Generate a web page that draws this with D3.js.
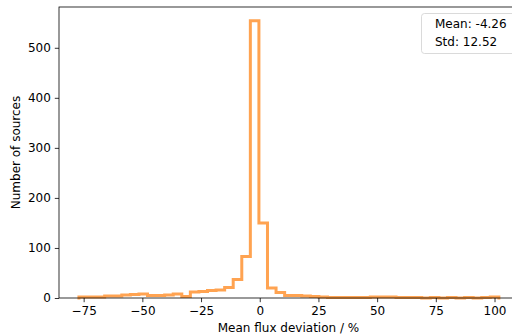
<!DOCTYPE html>
<html>
<head>
<meta charset="utf-8">
<script src="https://cdn.jsdelivr.net/npm/d3@7"></script>
<style>
  body { margin: 0; background: #fff; }
  svg { display: block; font-family: "DejaVu Sans", sans-serif; }
</style>
</head>
<body>
<svg id="chart" width="512" height="336"></svg>
<script>
// histogram bin edges (percent) and counts per bin
var binEdges = [-77.00, -73.35, -69.70, -66.05, -62.40, -58.75, -55.10, -51.45, -47.80, -44.15,
  -40.50, -36.85, -33.20, -29.55, -25.90, -22.25, -18.60, -14.95, -11.30, -7.65,
  -4.00, -0.35, 3.30, 6.95, 10.60, 14.25, 17.90, 21.55, 25.20, 28.85,
  32.50, 36.15, 39.80, 43.45, 47.10, 50.75, 54.40, 58.05, 61.70, 65.35,
  69.00, 72.65, 76.30, 79.95, 83.60, 87.25, 90.90, 94.55, 98.20, 101.85];
var binCounts = [2, 2, 2, 4, 4, 6, 7, 8, 5, 5,
  6, 8, 3, 12, 13, 15, 16, 21, 37, 83,
  554, 150, 20, 11, 5, 5, 4, 3, 2, 1,
  1, 1, 1, 1, 2, 2, 2, 1, 1, 1,
  0, 1, 0, 1, 0, 1, 0, 1, 2];
var xTicks = [-75, -50, -25, 0, 25, 50, 75, 100];
var yTicks = [0, 100, 200, 300, 400, 500];
var legendLabels = ["Mean: -4.26", "Std: 12.52"];

var svg = d3.select("#chart");
var box = {left: 59, top: 7, right: 518, bottom: 298};

var x = d3.scaleLinear()
  .domain([-85.5, 110])
  .range([box.left, box.right]);
var y = d3.scaleLinear()
  .domain([0, 581.5])
  .range([box.bottom, box.top]);

// step outline, open at both ends like histtype="step"
var pts = [[binEdges[0], 0]];
binCounts.forEach(function(c, i){
  pts.push([binEdges[i], c]);
  pts.push([binEdges[i + 1], c]);
});
pts.push([binEdges[binEdges.length - 1], 0]);

var line = d3.line()
  .x(function(d){ return x(d[0]); })
  .y(function(d){ return y(d[1]); });

svg.append("path")
  .datum(pts)
  .attr("d", line)
  .attr("fill", "none")
  .attr("stroke", "#ff7f0e")
  .attr("stroke-opacity", 0.72)
  .attr("stroke-width", 3)
  .attr("stroke-linejoin", "miter")
  .attr("stroke-linecap", "square");

// axes
var gx = svg.append("g")
  .attr("transform", "translate(0," + box.bottom + ")")
  .call(d3.axisBottom(x).tickValues(xTicks).tickSize(4.2).tickPadding(4));
var gy = svg.append("g")
  .attr("transform", "translate(" + box.left + ",0)")
  .call(d3.axisLeft(y).tickValues(yTicks).tickSize(4.2).tickPadding(4));

[gx, gy].forEach(function(g){
  g.select(".domain").remove();
  g.selectAll(".tick line")
    .attr("stroke", "#000")
    .attr("stroke-width", 0.8);
  g.selectAll(".tick text")
    .attr("fill", "#000")
    .style("font-size", "12px")
    .style("font-family", "DejaVu Sans");
});

// frame
svg.append("rect")
  .attr("x", box.left)
  .attr("y", box.top)
  .attr("width", box.right - box.left)
  .attr("height", box.bottom - box.top)
  .attr("fill", "none")
  .attr("stroke", "#000")
  .attr("stroke-width", 0.8);

// axis labels
svg.append("text")
  .attr("x", (box.left + box.right) / 2)
  .attr("y", 332)
  .attr("text-anchor", "middle")
  .style("font-size", "12px")
  .text("Mean flux deviation / %");

svg.append("text")
  .attr("transform", "translate(20," + ((box.top + box.bottom) / 2) + ") rotate(-90)")
  .attr("text-anchor", "middle")
  .style("font-size", "12px")
  .text("Number of sources");

// legend without handles, runs past the right edge
var lg = svg.append("g");
lg.append("rect")
  .attr("x", 421.5)
  .attr("y", 13.5)
  .attr("width", 96)
  .attr("height", 40)
  .attr("rx", 3)
  .attr("fill", "#fff")
  .attr("fill-opacity", 0.8)
  .attr("stroke", "#d0d0d0")
  .attr("stroke-width", 0.8);
lg.selectAll("text")
  .data(legendLabels)
  .enter()
  .append("text")
  .attr("x", 435)
  .attr("y", function(d, i){ return 28 + i * 18; })
  .style("font-size", "12px")
  .text(function(d){ return d; });
</script>
</body>
</html>
